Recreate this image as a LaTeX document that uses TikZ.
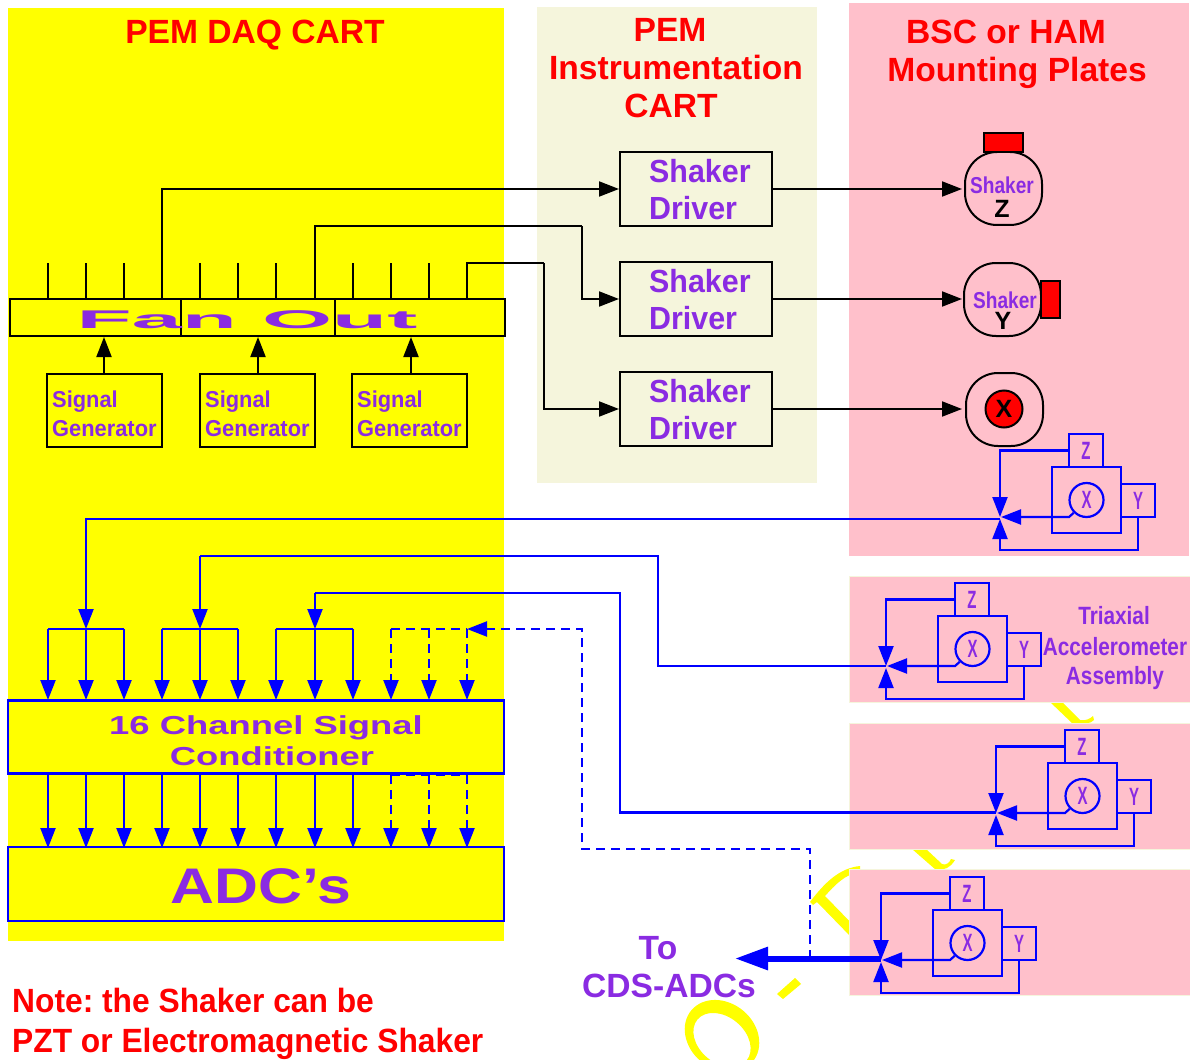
\documentclass[tikz,border=0pt]{standalone}
\usepackage{fontspec}
\setmainfont{Liberation Sans}
\usetikzlibrary{arrows.meta,calc}
\definecolor{pur}{HTML}{8A2BE2}
\definecolor{pnk}{HTML}{FFC0CB}
\definecolor{bge}{HTML}{F5F5DC}
\definecolor{wm}{HTML}{FFFF00}
\newcommand{\nw}[2]{\scalebox{#1}[1]{#2}}
\tikzset{
  >={Triangle[length=20pt,width=15pt]},
  lbl/.style={inner sep=0pt,font=\bfseries},
  title/.style={lbl,anchor=base,text=red,font=\bfseries\fontsize{33.6}{38}\selectfont\frenchspacing},
  pt/.style={lbl,text=pur},
  blk/.style={draw=black,line width=2pt},
  blu/.style={draw=blue,line width=2.2pt},
  bdash/.style={blu,dash pattern=on 9pt off 6pt},
  panel/.style={fill=pnk,draw=bge,line width=0.8pt},
  bigbox/.style={draw=blue,line width=2.2pt,fill=wm,inner sep=0pt,minimum width=496pt},
  fancell/.style={draw=black,line width=2pt,inner sep=0pt,minimum height=37pt},
  genbox/.style={draw=black,line width=2pt,inner sep=0pt,minimum width=115pt,minimum height=73pt},
  drvbox/.style={draw=black,line width=2pt,fill=bge,inner sep=0pt,minimum width=152pt,minimum height=73pt},
  shk/.style={draw=black,line width=2pt,inner sep=0pt,minimum width=77pt,minimum height=73pt,rounded corners=32pt},
  redb/.style={draw=black,line width=2pt,fill=red,inner sep=0pt},
  sens/.style={draw=blue,line width=2.2pt,inner sep=0pt},
  sn/.style={pt,font=\bfseries\fontsize{23}{23}\selectfont},
  blkt/.style={lbl,font=\bfseries\fontsize{25}{25}\selectfont},
}
\newcommand{\axl}[1]{\nw{.6}{\textcolor{pur}{\bfseries\fontsize{25}{25}\selectfont #1}}}
% one accelerometer assembly: name prefix, shift
\newcommand{\assembly}[3]{%
  \begin{scope}[shift={(#2,#3)}]
    \node[sens,minimum width=69pt,minimum height=66pt] (#1m) at (1086.5,500) {};
    \node[sens,minimum width=34pt,minimum height=33pt] (#1z) at (1086,450.5) {\axl{Z}};
    \node[sens,minimum width=34pt,minimum height=33pt] (#1y) at (1138,500.5) {\axl{Y}};
    \node[sens,circle,minimum size=34pt] (#1c) at (1086.5,500) {\axl{X}};
    \coordinate (#1jt) at (1000,517);
    \coordinate (#1jb) at (1000,519);
    \coordinate (#1jx) at (1001,517);
    \coordinate (#1k) at (1069,517);
    \coordinate (#1b) at (1138,550);
  \end{scope}
  \draw[sens,->] (#1z.west) -| (#1jt);
  \draw[sens,->] (#1c.south west) -- (#1k) -- (#1jx);
  \draw[sens,->] (#1y.south) -- (#1b) -| (#1jb);
}
\begin{document}
\begin{tikzpicture}[x=1pt,y=-1pt]
\useasboundingbox (0,0) rectangle (1190,1059);
% watermark remains
\fill[wm,even odd rule] (722,1036) ellipse[x radius=40,y radius=33,rotate=-40]
   (722,1040) ellipse[x radius=32,y radius=23,rotate=-40];
\fill[wm] (777,994) -- (795,978) -- (801,984) -- (783,999) -- cycle;
\fill[wm] (810,902) .. controls (825,882) and (840,868) .. (860,866) -- (860,872) .. controls (845,874) and (835,885) .. (825,896) -- (860,932) -- (852,938) -- (817,902) -- (813,905) -- cycle;
\fill[wm] (912,849) -- (926,849) -- (942,864) .. controls (946,866) and (950,862) .. (951,859) -- (955,860) .. controls (950,868) and (945,870) .. (936,870) -- cycle;
\fill[wm] (1050,702) -- (1062,702) -- (1080,720) .. controls (1085,721) and (1090,719) .. (1093,716) -- (1094,720) .. controls (1090,724) and (1086,724) .. (1072,723) -- cycle;
% panels
\fill[wm] (8,8) rectangle (504,941);
\fill[bge] (537,7) rectangle (817,483);
\fill[pnk] (849,3) rectangle (1189,556);
\draw[panel] (849,576) rectangle (1190,702);
\draw[panel] (849,723) rectangle (1190,849);
\draw[panel] (849,869) rectangle (1190,995);
% titles
\node[title] (t1) at (255,44) {PEM DAQ CART};
\node[title] (t2a) at (670,42) {PEM};
\node[title] (t2b) at (676,80) {Instrumentation};
\node[title] (t2c) at (671,118) {CART};
\node[title] (t3a) at (1006,44) {BSC or HAM};
\node[title] (t3b) at (1017,82) {Mounting Plates};
\node[title,anchor=base west] (n1) at (12,1012) {\nw{.945}{Note: the Shaker can be}};
\node[title,anchor=base west] (n2) at (12,1052) {\nw{.945}{PZT or Electromagnetic Shaker}};
% fan out
\node[fancell,minimum width=171pt] (f1) at (95.5,317.5) {};
\node[fancell,minimum width=154pt] (f2) at (258,317.5) {};
\node[fancell,minimum width=170pt] (f3) at (420,317.5) {};
\node[pt] (fo) at (247,320) {\scalebox{2.82}[0.8]{\fontsize{32}{32}\selectfont Fan Out}};
\foreach \i/\x in {1/48,2/86,3/124,4/162,5/200,6/238,7/276,8/315,9/353,10/391,11/429,12/467}{
  \coordinate (up\i) at (\x,299);
  \coordinate (ut\i) at (\x,263);
}
\foreach \i in {1,2,3,5,6,7,9,10,11}{\draw[blk] (up\i) -- (ut\i);}
% signal generators
\foreach \n/\x/\t in {g1/104.5/f1,g2/257.5/f2,g3/409.5/f3}{
  \node[genbox] (\n) at (\x,410.5) {};
  \node[sn,anchor=base west] at ($(\n.west)+(6,-3)$) {\nw{.95}{Signal}};
  \node[sn,anchor=base west] at ($(\n.west)+(6,26)$) {\nw{.95}{Generator}};
}
\coordinate (a1) at (104,337);\coordinate (a2) at (258,337);\coordinate (a3) at (411,337);
\coordinate (b1) at (104,373);\coordinate (b2) at (258,373);\coordinate (b3) at (411,373);
\foreach \i in {1,2,3}{\draw[blk,->] (b\i) -- (a\i);}
% drivers
\foreach \n/\y in {d1/189,d2/299,d3/409}{
  \node[drvbox,minimum height=74pt] (\n) at (696,\y) {};
  \node[pt,anchor=west,font=\bfseries\fontsize{32}{32}\selectfont] at ($(\n.west)+(30,-17.5)$) {\nw{.95}{Shaker}};
  \node[pt,anchor=west,font=\bfseries\fontsize{32}{32}\selectfont] at ($(\n.west)+(30,19.5)$) {\nw{.95}{Driver}};
}
\coordinate (c1) at (582,226);\coordinate (c2) at (544,263);
\draw[blk,->] (up4) |- (d1.west);
\draw[blk] (up8) -- (315,226) -- (c1);
\draw[blk,->] (c1) |- (d2.west);
\draw[blk] (up12) -- (ut12) -- (c2);
\draw[blk,->] (c2) |- (d3.west);
% shakers
\node[shk] (sz) at (1003.5,188.5) {};
\node[shk] (sy) at (1002.5,299.5) {};
\node[shk] (sx) at (1004.5,409.5) {};
\node[redb,minimum width=39pt,minimum height=19pt] (rz) at (1003.5,142.5) {};
\node[redb,minimum width=19pt,minimum height=37pt] (ry) at (1050.5,299.5) {};
\node[redb,circle,minimum size=37pt] (rx) at (1004,409) {};
\node[blkt] (rxt) at (1004,409) {X};
\node[sn,anchor=base] (sz1) at (1002,194) {\nw{.83}{Shaker}};
\node[blkt,anchor=base] (sz2) at (1002,218) {Z};
\node[sn,anchor=base] (sy1) at (1005,308) {\nw{.83}{Shaker}};
\node[blkt,anchor=base] (sy2) at (1003,329) {Y};
\coordinate (e1) at (962,189);\coordinate (e2) at (962,299);\coordinate (e3) at (962,409);
\draw[blk,->] (d1.east) -- (e1);
\draw[blk,->] (d2.east) -- (e2);
\draw[blk,->] (d3.east) -- (e3);
% conditioner / ADC
\node[bigbox,minimum height=73pt] (cond) at (256,737) {};
\node[bigbox,minimum height=74pt] (adc) at (256,884) {};
\node[pt,anchor=base] (cond1) at (266,734) {\scalebox{1.4}[1]{\fontsize{26}{26}\selectfont 16 Channel Signal}};
\node[pt,anchor=base] (cond2) at (272,765) {\scalebox{1.4}[1]{\fontsize{26}{26}\selectfont Conditioner}};
\node[pt,anchor=base] (adct) at (261,903) {\scalebox{1.215}[1]{\fontsize{50}{50}\selectfont ADC’s}};
% assemblies
\assembly{s1}{0}{0}
\assembly{s2}{-114}{149}
\assembly{s3}{-4}{296}
\assembly{s4}{-119}{443}
\node[sn,font=\bfseries\fontsize{25}{25}\selectfont] (tr1) at (1114,616) {\nw{.83}{Triaxial}};
\node[sn,font=\bfseries\fontsize{25}{25}\selectfont] (tr2) at (1115,647) {\nw{.83}{Accelerometer}};
\node[sn,font=\bfseries\fontsize{25}{25}\selectfont] (tr3) at (1115,678) {\nw{.83}{Assembly}};
% signal lines into the conditioner
\foreach \i/\x in {1/48,2/86,3/124,4/162,5/200,6/238,7/276,8/315,9/353,10/391,11/429,12/467}{
  \coordinate (i\i) at (\x,629);
  \coordinate (t\i) at (\x,700);
  \coordinate (o\i) at (\x,775);
  \coordinate (p\i) at (\x,848);
}
\foreach \i in {1,2,3,4,5,6,7,8,9}{
  \draw[blu,->] (i\i) -- (t\i);
  \draw[blu,->] (o\i) -- (p\i);
}
\foreach \i in {10,11,12}{
  \draw[bdash,->] (i\i) -- (t\i);
  \draw[bdash,->] (o\i) -- (p\i);
}
\draw[blu] (i1) -- (i3);
\draw[blu] (i4) -- (i6);
\draw[blu] (i7) -- (i9);
\draw[bdash] (i10) -- (i12);
\draw[bdash] (o10) -- (o12);
% returns from the assemblies
\coordinate (r1) at (1000,519);
\coordinate (r2) at (886,666);
\coordinate (r3) at (996,812.5);
\coordinate (r4) at (881,958.5);
\coordinate (cds) at (735,958.5);
\draw[blu,->] (r1) -- (86,519) -- (i2);
\draw[blu] (r2) -- (658,666) -- (658,556) -- (200,556) coordinate (q2);
\draw[blu,->] (q2) -- (i5);
\draw[blu] (r3) -- (620,812.5) -- (620,593) -- (315,593) coordinate (q3);
\draw[blu,->] (q3) -- (i8);
\draw[draw=blue,line width=6pt,-{Triangle[length=33pt,width=22pt]}] (r4) -- (cds);
\coordinate (tp) at (810,958.5);
\draw[bdash,->] (tp) -- (810,849) -- (582,849) -- (582,629) -- (i12);
\node[pt,font=\bfseries\fontsize{33.6}{33.6}\selectfont] (to1) at (658,948) {To};
\node[pt,font=\bfseries\fontsize{33.6}{33.6}\selectfont] (to2) at (669,986) {CDS-ADCs};
\end{tikzpicture}
\end{document}
